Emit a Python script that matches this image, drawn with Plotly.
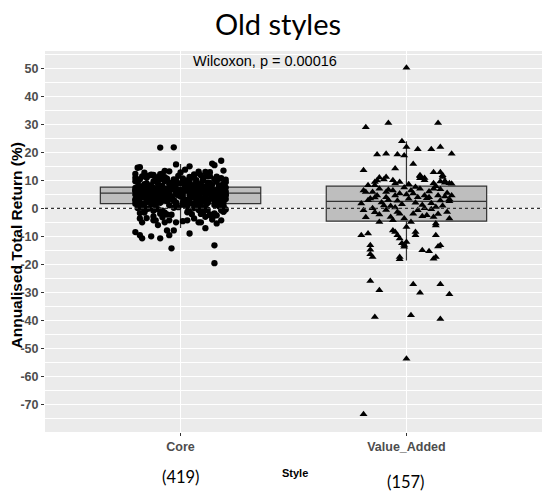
import plotly.graph_objects as go

# ---------------- data ----------------
categories = ["Core", "Value_Added"]
counts = ["(419)", "(157)"]
y_ticks = [50, 40, 30, 20, 10, 0, -10, -20, -30, -40, -50, -60, -70]
y_tick_labels = ["50", "40", "30", "20", "10", "0", "-10", "-20", "-30", "-40", "-50", "-60", "-70"]

# box statistics (Core, Value_Added)
box_q1 = [1.7, -4.6]
box_median = [5.4, 2.5]
box_q3 = [7.6, 7.9]
box_lower = [-7.0, -18.6]
box_upper = [15.8, 24.0]

core_values = [
    21.7, 21.8, 14.5, 14.7, 15.0, 15.4, 15.7, 16.0, 17.0,
    12.0, 12.2, 12.5, 12.7, 13.0, 13.2, 13.5, 13.8, 12.3, 12.9, 13.4, 12.1,
    10.0, 10.1, 10.3, 10.4, 10.5, 10.7, 10.8, 10.9, 11.0, 11.1, 11.2, 11.4, 11.5,
    11.6, 11.8, 11.9, 10.2, 10.6, 11.3, 11.7, 10.0, 10.9, 11.5, 10.4, 11.0,
    7.7, 7.8, 7.9, 8.0, 8.1, 8.2, 8.3, 8.4, 8.5, 8.6, 8.7, 8.8, 8.9, 9.0, 9.1,
    9.2, 9.3, 9.4, 9.5, 9.6, 9.7, 9.8, 9.9, 7.7, 8.2, 8.7, 9.2, 9.7, 8.0,
    5.4, 5.5, 5.6, 5.7, 5.8, 5.9, 6.0, 6.1, 6.2, 6.3,
    6.4, 6.5, 6.6, 6.7, 6.8, 6.9, 7.0, 7.1, 7.2, 7.3,
    7.4, 7.5, 7.6, 5.5, 5.7, 5.9, 6.1, 6.3, 6.5, 6.7,
    6.9, 7.1, 7.3, 7.5, 5.4, 5.6, 5.8, 6.0, 6.2, 6.4,
    6.6, 6.8, 7.0, 7.2, 7.4, 5.5, 5.8, 6.1, 6.4, 6.7,
    7.0, 7.3, 7.6, 5.6, 5.9, 6.2, 6.5, 6.8, 7.1, 7.4,
    5.4, 5.7, 6.0, 6.3, 6.6, 6.9, 7.2, 7.5, 5.5, 6.0,
    6.5, 7.0, 5.8, 6.3, 6.8,
    1.7, 1.8, 1.9, 2.0, 2.1, 2.2, 2.3, 2.4, 2.5, 2.6,
    2.7, 2.8, 2.9, 3.0, 3.1, 3.2, 3.3, 3.4, 3.5, 3.6,
    3.7, 3.8, 3.9, 4.0, 4.1, 4.2, 4.3, 4.4, 4.5, 4.6,
    4.7, 4.8, 4.9, 5.0, 5.1, 5.2, 5.3, 1.8, 2.0, 2.2,
    2.4, 2.6, 2.8, 3.0, 3.2, 3.4, 3.6, 3.8, 4.0, 4.2,
    4.4, 4.6, 4.8, 5.0, 5.2, 1.9, 2.3, 2.7, 3.1, 3.5,
    3.9, 4.3, 4.7, 5.1, 2.1, 2.5, 2.9, 3.3, 3.7, 4.1,
    4.5, 4.9, 5.3, 3.0, 4.0,
    -2.9, -2.6, -2.3, -2.0, -1.7, -1.4, -1.1, -0.8, -0.5, -0.2,
    0.1, 0.4, 0.7, 1.0, 1.3, 1.6, -2.8, -2.2, -1.6, -1.0,
    -0.4, 0.2, 0.8, 1.4, -2.5, -1.9, -1.3, -0.7, -0.1, 0.5,
    1.1, 1.5, -2.4, -1.5, -0.6, 0.3, 1.2, -1.8, -0.3, 0.6,
    1.6, -2.1, -0.9, 0.0, 1.0,
    -3.6, -5.0, -4.3, -4.3, -3.2, -5.0, -4.3, -5.0, -4.6, -4.3,
    -3.6, -5.0, -5.0, -3.0, -5.4, -4.0, -4.3, -3.5, -6.0, -8.5,
    -9.6, -10.7, -10.0, -10.7, -7.9, -9.6, -7.9, -9.0, -7.1, -14.3,
    -13.2, -19.6,
    0.5, 2.3, 4.4, 6.2, 8.1, 9.5, 11.3, 3.1, 5.0, 7.0,
    1.2, 3.8, 5.6, 7.4, 9.0, 10.6, 12.4, 2.7, 4.9, 6.6,
    -1.5, 0.9, 3.3, 5.2, 6.9, 8.6, 10.2, 1.9, 4.1, 6.0,
    7.8, 9.9, -2.2, 2.5, 4.7, 6.4, 8.3, 11.7, 3.6, 5.8,
    0.1, 2.0, 4.2, 6.1, 7.6, 9.3, 12.8, 1.5, 3.5, 5.4,
    7.2, 8.9, -0.6, 2.9, 4.6, 6.8, 8.0, 10.4, 1.0, 3.9,
    5.5, 7.3, 9.6, 11.1, -1.2, 2.2, 4.3, 6.5, 8.4, 10.0,
    0.7, 3.0, 5.1, 6.7, 7.9, 9.8, 1.4, 4.8, 6.3, 13.1,
]
# horizontal jitter of each Core point (hundredths of a category)
core_jitter = [
    -9, -3, -19, -18, 4, 15, -2, 14, 18,
    -13, -9, 8, -16, 11, -5, 19, 2, -20, 13, -7, 6,
    -19, 7, -3, 15, -11, 1, 18, -15, 10, -7, 4, -17, 13,
    -1, 9, -12, 20, -6, 16, -14, 3, -20, 12, -9, 5,
    11, -18, 2, 17, -8, 6, -13, 14, -2, -16, 9, 19, -10, 0, 13,
    -5, -19, 7, 16, -12, 3, -7, 10, -15, 18, -4, 12, -20, 5,
    -14, 8, -1, 19, -9, 4, -17, 12, -5, 15,
    -20, 1, 10, -12, 17, -7, 6, -15, 13, -3,
    20, -10, 3, -18, 9, -6, 14, -13, 0, 18,
    -8, 11, -16, 5, -2, 16, -11, 7, -19, 2,
    13, -4, 19, -14, 10, -9, 4, -17, 15, -1,
    8, -12, 18, -6, 12, -20, 1, -15, 9, -3,
    17, -10, 6, -18, 14, -7, 3, 11, -13, 20,
    -5, 7, -16, 16, -11,
    5, -16, 12, -2, 19, -11, 7, -19, 15, -6,
    2, -13, 17, -8, 10, -20, 4, 13, -4, -15,
    9, 18, -10, 1, -17, 14, -7, 6, -12, 20,
    -1, 11, -18, 8, -5, 16, -14, 3, -9, 12,
    -19, 18, -3, 7, -15, 10, -8, 15, -12, 0,
    19, -6, 4, -16, 13, -2, 9, -20, 17, -10,
    6, -13, 14, 1, -18, 11, -7, 20, -4, 8,
    -14, 16, -11, 3, -17,
    -12, 15, -4, 9, -18, 3, 19, -8, 12, -15,
    6, -1, 17, -11, 1, -20, 14, -6, 10, -16,
    20, -3, 7, -13, 16, -9, 4, 18, -14, 11,
    -5, -19, 13, -7, 8, -17, 2, 15, -10, 19,
    -2, 5, -12, 9, -16,
    -18, -17, -12, -11, -8, -7, -5, -2, 1, 3,
    6, 8, 9, 11, 16, 14, 18, -15, -10, -20,
    -18, -17, -13, -9, -6, -5, -3, 4, 11, -4,
    15, 15,
    3, -15, 18, -7, 12, -19, 6, -11, 20, -3,
    15, -18, 9, -13, 1, 17, -8, 11, -20, 4,
    -16, 19, -5, 14, -10, 7, -2, 16, -14, 10,
    -17, 2, 13, -9, 19, -6, 5, -12, 18, -1,
    -19, 8, -4, 12, -16, 20, 0, -11, 15, -8,
    6, -15, 11, -3, 17, -13, 3, -18, 9, -6,
    14, -20, 7, -10, 19, 1, -14, 16, -5, 10,
    -17, 12, -2, 18, -9, 4, -12, 15, -7, 8,
]

va_values = [
    50.2, 29.0, 30.5, 30.5, 24.0, 21.9, 21.1, 21.1, 21.9, 19.5,
    19.2, 19.5, 19.2, 18.9, 15.8, 13.6, 14.2, 12.9, 12.9, 11.0,
    11.2, 11.5, 10.8, 11.2, 9.8, 8.8, 11.8, 9.6, 9.1, 11.8,
    10.7, 10.0, 9.0, 10.3, 9.9, 9.4, 8.2, 8.2, 10.0, 8.9,
    9.4, 8.6, 9.0, 7.9,
    6.4, 5.8, 5.8, 4.6, 7.0, 5.8, 4.0, 6.4, 4.6, 5.3,
    6.4, 5.3, 4.0, 7.0, 4.6, 4.0, 7.0, 4.6, 4.2, 2.5,
    3.2, 4.6, 2.9,
    -0.7, -3.2, 0.0, -1.4, -4.9, -3.1, -4.3, -1.3, -1.9, -3.6,
    -6.7, -4.9, -1.9, -0.7, 0.0, -2.5, -3.1, -5.4, -1.3, -3.6,
    3.5, 2.1, 1.0, 3.0, 0.8, 2.7, 1.5, 3.4, 2.0, 1.2,
    3.6, 1.8, 0.5, 2.8, 0.9, 1.7, -2.2, 6.6, 7.4, 7.6,
    6.0, 6.8, 5.5, 3.9, 4.9, -2.8, -0.3, -0.6, -2.0, 0.3,
    -9.6, -9.0, -7.9, -8.5, -9.6, -10.8, -13.1, -13.7, -8.5, -9.6,
    -6.1, -9.6, -13.2, -15.0, -13.2, -14.8, -17.4, -17.4, -17.4, -12.5,
    -12.0, -18.2, -15.3, -13.6, -18.0, -16.4,
    -26.0, -29.3, -27.1, -30.2, -27.1, -30.7, -38.8, -38.2, -39.5, -53.7,
    -73.6,
]
va_jitter = [
    0, -18, -8, 14, -2, 0, 5, 11, 15, 20,
    -13, -9, -4, -1, 3, -19, -5, 12, 15, -12,
    -9, 6, 8, 16, 17, 20, 16, 15, 17, 6,
    6, 8, 19, -10, -13, -14, -14, -17, -6, -5,
    -3, 1, 12, 13,
    -19, -18, -15, -13, -12, -9, -9, -6, -5, -3,
    2, 3, 5, 6, 8, 10, 12, 14, 17, 19,
    19, 20, -17,
    -19, -18, -15, -14, -12, -7, -6, -4, -3, -1,
    0, 2, 3, 5, 8, 9, 12, 13, 18, 19,
    -16, -11, -10, -8, -7, -4, -2, 1, 4, 7,
    9, 11, 13, 15, 16, -20, -12, -8, -1, 4,
    10, 15, 18, -14, 0, 7, 11, -9, 14, -5,
    -20, -17, -6, -5, -4, -3, -1, -1, 4, 4,
    13, 13, 15, 7, -16, -16, -15, -3, 13, -2,
    0, -3, 10, 14, 12, -16,
    -16, -12, 3, 6, 15, 19, -14, 2, 15, 0,
    -19,
]

# ---------------- figure ----------------
sans = "Liberation Sans, Arial, sans-serif"
cat_pos = [1, 2]

fig = go.Figure()

fig.add_trace(go.Box(
    x=cat_pos, q1=box_q1, median=box_median, q3=box_q3,
    lowerfence=box_lower, upperfence=box_upper,
    width=0.71, whiskerwidth=0, boxpoints=False,
    fillcolor="#BEBEBE", line=dict(color="#333333", width=1.2),
    showlegend=False, hoverinfo="skip",
))

fig.add_trace(go.Scatter(
    x=[cat_pos[0] + j / 100 for j in core_jitter], y=core_values,
    mode="markers", marker=dict(symbol="circle", size=6.3, color="black"),
    showlegend=False,
))
fig.add_trace(go.Scatter(
    x=[cat_pos[1] + j / 100 for j in va_jitter], y=va_values,
    mode="markers", marker=dict(symbol="triangle-up", size=7, color="black"),
    showlegend=False,
))

fig.add_hline(y=0, line=dict(color="#333333", width=1.2, dash="3px,3px"), layer="above")

fig.update_layout(
    width=542, height=491,
    margin=dict(l=45, r=0, t=51, b=59),
    paper_bgcolor="white", plot_bgcolor="#EBEBEB",
    title=dict(text="Old styles", x=0.513, xanchor="center", y=0.949, yanchor="middle",
               font=dict(family="Lato, Open Sans, sans-serif", size=29, color="black")),
    xaxis=dict(
        range=[0.4, 2.6], tickvals=cat_pos, ticktext=categories, automargin=False,
        showgrid=True, gridcolor="white", gridwidth=1.4, zeroline=False,
        ticks="outside", ticklen=3, tickcolor="#333333",
        tickfont=dict(family=sans, size=12.5, color="#4D4D4D", weight="bold"),
    ),
    yaxis=dict(
        range=[-79.9, 56.2], tickvals=y_ticks, ticktext=y_tick_labels, automargin=False,
        showgrid=True, gridcolor="white", gridwidth=1.4, zeroline=False,
        ticks="outside", ticklen=3, tickcolor="#333333",
        tickfont=dict(family=sans, size=12.5, color="#4D4D4D", weight="bold"),
        minor=dict(dtick=5, tick0=0, showgrid=True, gridcolor="white", gridwidth=0.7, ticks=""),
    ),
)

fig.add_annotation(text="Wilcoxon, p = 0.00016", xref="paper", yref="paper",
                   x=0.443, y=0.974, xanchor="center", yanchor="middle", showarrow=False,
                   font=dict(family=sans, size=14.5, color="black"))
fig.add_annotation(text="Annualised Total Return (%)", xref="paper", yref="paper",
                   x=-0.058, y=0.49, xanchor="center", yanchor="middle", textangle=-90,
                   showarrow=False,
                   font=dict(family=sans, size=15.5, color="black", weight="bold"))
fig.add_annotation(text="Style", xref="paper", yref="paper", x=0.503, y=-0.108,
                   xanchor="center", yanchor="middle", showarrow=False,
                   font=dict(family=sans, size=11, color="black", weight="bold"))
for pos, label, yy in zip(cat_pos, counts, [-0.118, -0.131]):
    fig.add_annotation(text=label, xref="x", yref="paper", x=pos, y=yy,
                       xanchor="center", yanchor="middle", showarrow=False,
                       font=dict(family="Lato, Open Sans, sans-serif", size=16.5, color="black"))

fig.write_html(
    "out.html",
    config={"displayModeBar": False},
    post_script="document.body.style.margin='0';document.body.style.overflow='hidden';",
)
